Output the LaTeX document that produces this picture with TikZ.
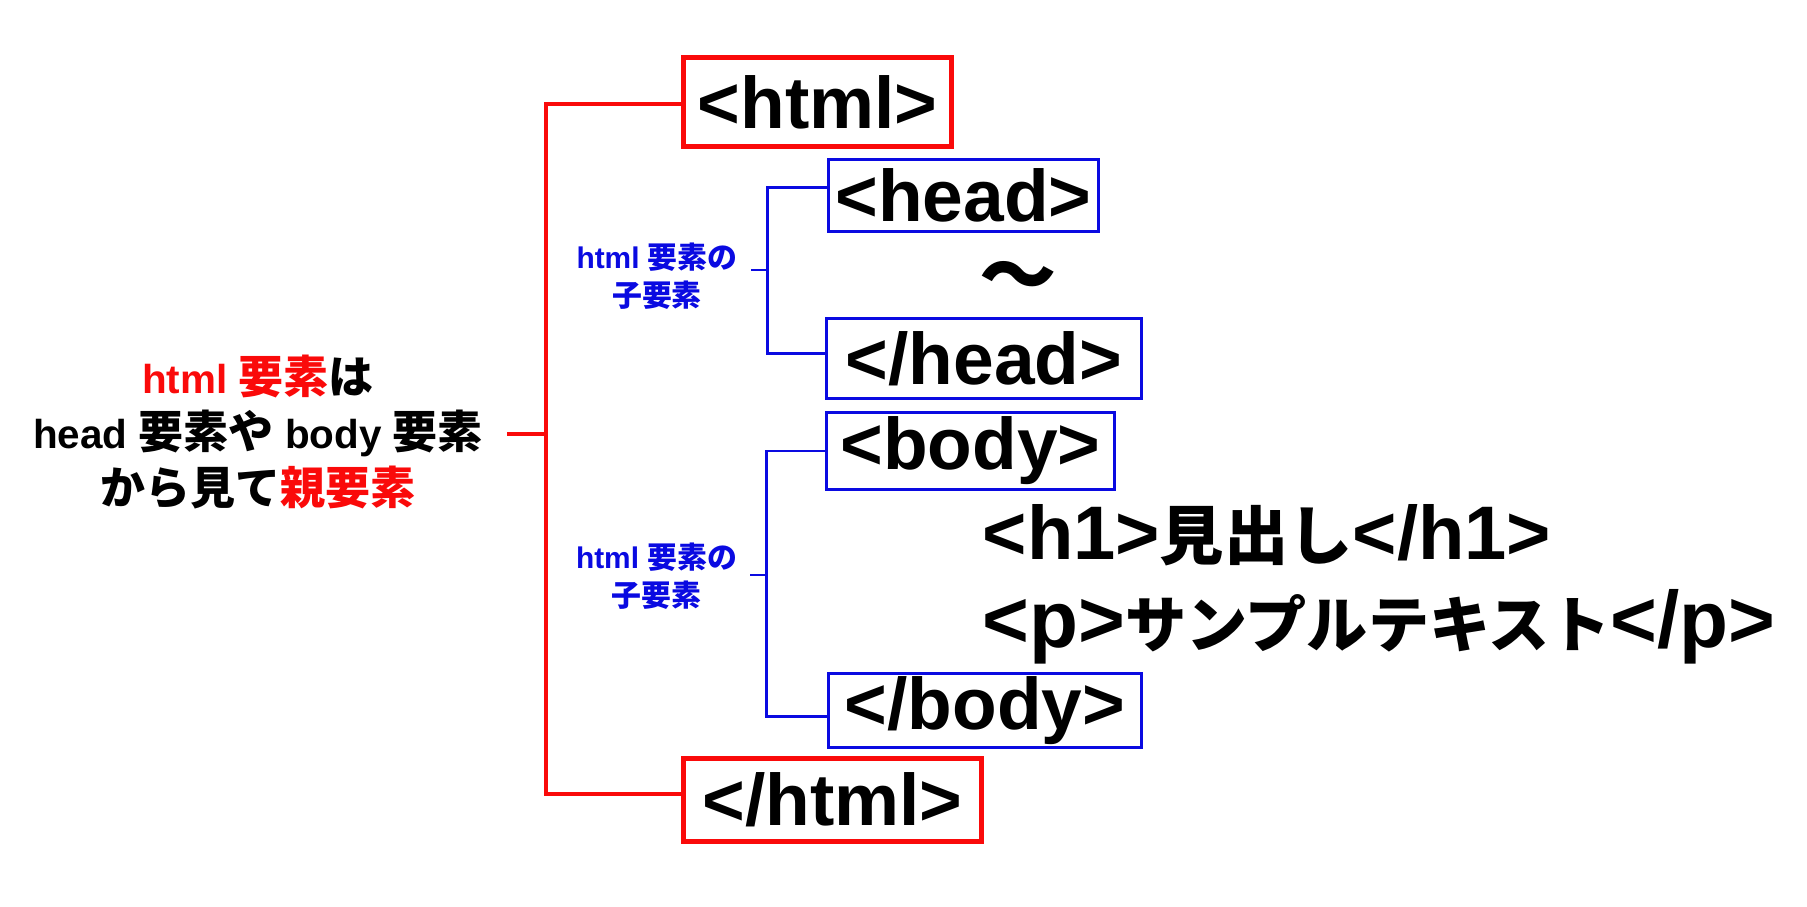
\documentclass[tikz,border=0pt]{standalone}
\usepackage{fontspec}
\setmainfont{Liberation Sans}
\newfontfamily\jp{Noto Sans CJK JP}
\newcommand{\ja}[2]{{\jp\fontsize{#1}{#1}\selectfont #2}}
\definecolor{tagred}{RGB}{250,10,10}
\definecolor{tagblue}{RGB}{10,10,225}
\tikzset{
	redbox/.style={draw=tagred,line width=1.4pt,inner sep=0pt,font=\bfseries\fontsize{20.8}{24}\selectfont},
	bluebox/.style={draw=tagblue,line width=0.9pt,inner sep=0pt,font=\bfseries\fontsize{20.8}{24}\selectfont},
	redline/.style={tagred,line width=1.3pt},
	blueline/.style={tagblue,line width=0.85pt},
	childlabel/.style={text=tagblue,align=center,font=\bfseries\fontsize{8.5}{10.8}\selectfont}
}

\begin{document}
\begin{tikzpicture}
\useasboundingbox (0,0) rectangle (18.07,-9.07);
% tag boxes
\node[redbox,minimum width=2.68cm,minimum height=0.89cm] (html) at (8.175,-1.02) {<html>};
\node[bluebox,minimum width=2.70cm,minimum height=0.72cm] (head) at (9.635,-1.955) {<head>};
\node[bluebox,minimum width=3.15cm,minimum height=0.80cm] (chead) at (9.84,-3.585) {</head>};
\node[bluebox,minimum width=2.88cm,minimum height=0.77cm] (body) at (9.705,-4.51) {<body>};
\node[bluebox,minimum width=3.13cm,minimum height=0.74cm] (cbody) at (9.85,-7.105) {</body>};
\node[redbox,minimum width=2.98cm,minimum height=0.83cm] (chtml) at (8.325,-8.00) {</html>};
\node[font=\bfseries] (tilde) at (10.18,-2.82) {\ja{22}{～}};
\node[anchor=base west,inner sep=0pt,font=\bfseries\fontsize{21.6}{26}\selectfont] (h1line) at (9.82,-5.60) {<h1>\ja{18.3}{見出し}</h1>};
\node[anchor=base west,inner sep=0pt,font=\bfseries\fontsize{22.8}{27}\selectfont] (pline) at (9.82,-6.47) {<p>\ja{17.4}{サンプルテキスト}</p>};
% labels
\node[align=center,font=\bfseries\fontsize{11.5}{15.7}\selectfont] (parent) at (2.58,-4.32)
	{{\color{tagred}html \ja{12.8}{要素}}\ja{12.8}{は}\\
	 head \ja{12.8}{要素や} body \ja{12.8}{要素}\\
	 \ja{12.8}{から見て}{\color{tagred}\ja{12.8}{親要素}}};
\node[childlabel] (lblA) at (6.57,-2.765) {html \ja{8.5}{要素の}\\\ja{8.5}{子要素}};
\node[childlabel] (lblB) at (6.565,-5.765) {html \ja{8.5}{要素の}\\\ja{8.5}{子要素}};
% brackets
\coordinate (rbar) at (5.46,-4.34);
\coordinate (rstub) at (5.07,-4.34);
\draw[redline] ([yshift=-0.02cm]html.west) -| (rbar) |- ([yshift=0.06cm]chtml.west);
\draw[redline] (rstub) -- (rbar);
\coordinate (bA) at (7.67,-2.70);
\coordinate (sA) at (7.51,-2.70);
\coordinate (bB) at (7.66,-5.75);
\coordinate (sB) at (7.50,-5.75);
\foreach \o/\c/\b/\s/\u/\v in {head/chead/bA/sA/0.08/0.05, body/cbody/bB/sB/0.0/-0.06}{
	\draw[blueline] ([yshift=\u cm]\o.west) -| (\b) |- ([yshift=\v cm]\c.west);
	\draw[blueline] (\s) -- (\b);
}
\end{tikzpicture}
\end{document}
